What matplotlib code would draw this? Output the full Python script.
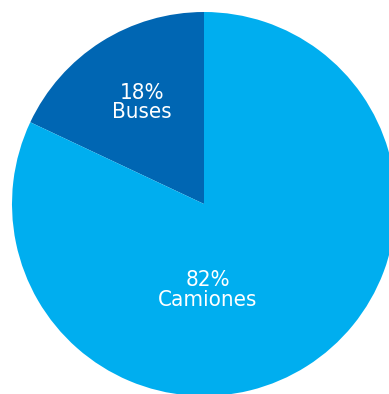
import matplotlib
matplotlib.use("Agg")
import matplotlib.pyplot as plt

categories = ["Buses", "Camiones"]
values = [18, 82]
colors = ["#0066B3", "#00AEEF"]

fig = plt.figure(figsize=(3.89, 3.94), dpi=100)
ax = fig.add_axes([0, 0, 1, 1])
ax.pie(values, colors=colors, startangle=90, counterclock=True, radius=1,
       wedgeprops=dict(linewidth=0))
ax.set_aspect('auto')
ax.set_xlim(-204/192, (389-204)/192)
ax.set_ylim((204-394)/192, 204/192)
ax.axis('off')

fam = ['DejaVu Sans', 'Liberation Sans']
label_pos = [(-0.323, 0.528), (0.02, -0.448)]
for cat, v, (x, y) in zip(categories, values, label_pos):
    ax.text(x, y, f"{v}%\n{cat}", ha='center', va='center', color='white',
            fontsize=16, family=fam, fontstretch='condensed', linespacing=0.95)

fig.savefig("out.png", dpi=100)
